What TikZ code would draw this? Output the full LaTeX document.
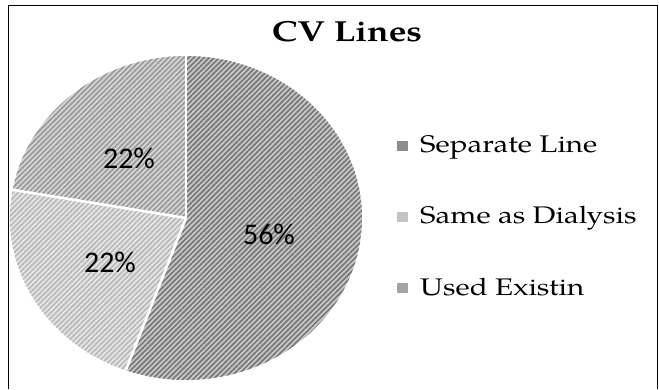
\documentclass[tikz,border=0pt]{standalone}
\usepackage{fontspec}
\setmainfont{TeX Gyre Pagella}
\newfontfamily\lblfont{Carlito}
\usetikzlibrary{patterns.meta}
\definecolor{sepbase}{HTML}{CACACA}
\definecolor{sepline}{HTML}{787878}
\definecolor{usebase}{HTML}{D6D6D6}
\definecolor{useline}{HTML}{9A9A9A}
\definecolor{samebase}{HTML}{E6E6E6}
\definecolor{sameline}{HTML}{BABABA}
\newcommand\pieslice[3]{\path[#3] (C) -- ++({176*cos(#1)},{162*sin(#1)}) arc[start angle=#1,end angle=#2,x radius=176,y radius=162] -- cycle;}
\tikzset{
  hatch/.style 2 args={fill=#1, postaction={pattern={Lines[angle=45,distance=3.6pt,line width=1.7pt]}, pattern color=#2}},
  sepline/.style={white, line width=2.6pt},
  legtext/.style={anchor=base west, inner sep=0pt, font=\fontsize{24}{28}\selectfont},
  key/.style={minimum width=11pt, minimum height=10pt, inner sep=0pt},
  pct/.style={inner sep=0pt, font=\lblfont\fontsize{30}{34}\selectfont}
}
\begin{document}
\begin{tikzpicture}[x=1pt,y=1pt]
\useasboundingbox (0,0) rectangle (659,-389);
\draw[line width=1.8pt] (8.5,-389) -- (8.5,-5.5) -- (657.5,-5.5) -- (657.5,-389);
\node[font=\bfseries\fontsize{29}{34}\selectfont, inner sep=0pt] (title) at (347,-32) {\scalebox{1.22}[1]{CV Lines}};
\coordinate (C) at (186,-218);
\pieslice{90}{-110}{hatch={sepbase}{sepline}}
\pieslice{-110}{-190}{hatch={samebase}{sameline}}
\pieslice{170}{90}{hatch={usebase}{useline}}
\coordinate (b1) at ({186+176*cos(90)},{-218+162*sin(90)});
\coordinate (b2) at ({186+176*cos(-110)},{-218+162*sin(-110)});
\coordinate (b3) at ({186+176*cos(170)},{-218+162*sin(170)});
\draw[sepline] (C) -- (b1);
\draw[sepline] (C) -- (b2);
\draw[sepline] (C) -- (b3);
\node[pct] (p56) at (269,-234) {56\%};
\node[pct] (p22a) at (129,-158) {22\%};
\node[pct] (p22b) at (110,-262) {22\%};
\node[key, fill=sepline!85] (k1) at (402,-146) {};
\node[key, fill=sameline!85] (k2) at (402,-217) {};
\node[key, fill=useline!90] (k3) at (402,-288) {};
\node[legtext] (t1) at (420,-152) {\scalebox{1.23}[1]{Separate Line}};
\node[legtext] (t2) at (420,-223) {\scalebox{1.23}[1]{Same as Dialysis}};
\node[legtext] (t3) at (420,-295) {\scalebox{1.23}[1]{Used Existin}};
\end{tikzpicture}
\end{document}
